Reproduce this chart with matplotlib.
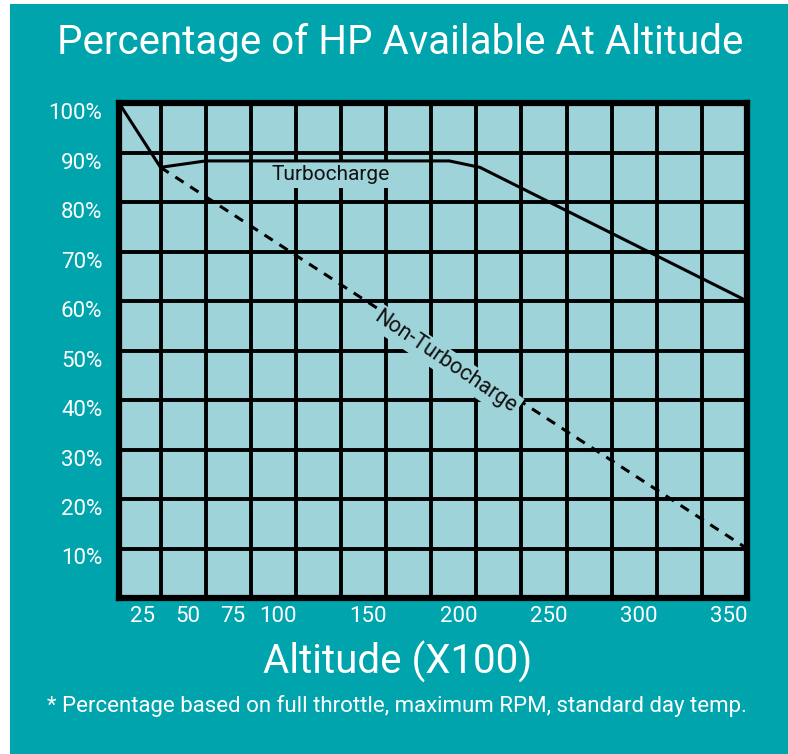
import matplotlib
matplotlib.use('Agg')
import matplotlib.pyplot as plt
from matplotlib.patches import Rectangle

# Data
turbo_alt = [12, 35, 60, 195, 212, 360]
turbo_pct = [100, 87, 88.3, 88.3, 87, 60]
nonturbo_alt = [35, 360]
nonturbo_pct = [87, 10]

alt_labels = [25, 50, 75, 100, 150, 200, 250, 300, 350]
grid_alts = [35, 60, 85, 110, 135, 160, 185, 210, 235, 260, 285, 310, 335]
pct_ticks = [10, 20, 30, 40, 50, 60, 70, 80, 90, 100]

teal = '#00A4AC'
panel = '#9FD3DA'

plt.rcParams['font.family'] = ['Roboto', 'DejaVu Sans']

fig = plt.figure(figsize=(7.88, 7.54), dpi=100)
fig.patch.set_facecolor('white')
# teal backdrop (leaves a thin white strip on the left and top)
fig.patches.append(Rectangle((10 / 788, 0), 1, 1 - 4 / 754, transform=fig.transFigure,
                             facecolor=teal, edgecolor='none', zorder=-5))

ax = fig.add_axes([119 / 788, 1 - 598 / 754, 628 / 788, 495 / 754])
ax.set_facecolor(panel)
ax.set_xlim(12, 360)
ax.set_ylim(0, 100)

# grid
ax.set_xticks(grid_alts, minor=True)
ax.set_xticks(alt_labels)
ax.set_xticklabels([str(a) for a in alt_labels])
ax.set_yticks(pct_ticks)
ax.set_yticklabels(['%d%%' % p for p in pct_ticks])
ax.grid(which='minor', axis='x', color='black', linewidth=2.8)
ax.grid(which='major', axis='y', color='black', linewidth=2.8)
ax.set_axisbelow(True)
ax.tick_params(which='both', length=0)
ax.tick_params(axis='both', colors='white', labelsize=16)
ax.tick_params(axis='x', pad=6)
ax.tick_params(axis='y', pad=12)
for label in ax.get_yticklabels():
    label.set_va('top')
    label.set_y(0)
for s in ax.spines.values():
    s.set_linewidth(4.5)
    s.set_color('black')

# curves
ax.plot(turbo_alt, turbo_pct, color='black', linewidth=2.2, zorder=3, clip_on=False)
ax.plot(nonturbo_alt, nonturbo_pct, color='black', linewidth=2.2, linestyle=(0, (3.2, 2.6)), zorder=2)

ax.text(129, 85.6, 'Turbocharge', fontsize=15, ha='center', va='center', color='#111111',
        bbox=dict(facecolor=panel, edgecolor='none', pad=3), zorder=2.5)
ax.text(193, 47.7, 'Non-Turbocharge', fontsize=15.5, ha='center', va='center', color='#111111',
        rotation=-34, rotation_mode='anchor',
        bbox=dict(facecolor=panel, edgecolor='none', pad=2), zorder=2.5)

fig.text(400 / 788, 1 - 42 / 754, 'Percentage of HP Available At Altitude', fontsize=29,
         color='white', ha='center', va='center')
fig.text(398 / 788, 1 - 662 / 754, 'Altitude (X100)', fontsize=29,
         color='white', ha='center', va='center')
fig.text(397 / 788, 1 - 706 / 754,
         '* Percentage based on full throttle, maximum RPM, standard day temp.',
         fontsize=16, color='white', ha='center', va='center')

fig.savefig('out.png', dpi=100, facecolor=fig.get_facecolor())
